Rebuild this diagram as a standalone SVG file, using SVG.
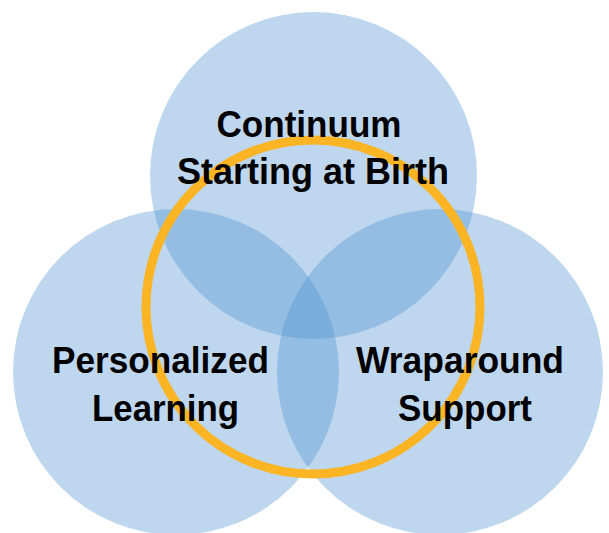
<svg xmlns="http://www.w3.org/2000/svg" width="609" height="533" viewBox="0 0 609 533">
<style>
.c{fill:#4A91D0;fill-opacity:0.36}
.t{font-family:"Liberation Sans",Arial,sans-serif;font-weight:bold;font-size:36px;fill:#000;text-anchor:middle}
</style>
<rect width="609" height="533" fill="#fff"/>
<g id="node-continuum"><circle class="c" cx="313.5" cy="175.5" r="163.5"/></g>
<g id="node-personalized"><circle class="c" cx="176" cy="372" r="163"/></g>
<g id="node-wraparound"><circle class="c" cx="440" cy="372" r="163"/></g>
<g id="node-ring"><circle cx="313" cy="307" r="167" fill="none" stroke="#FBB424" stroke-width="9"/></g>
<g id="labels">
<text class="t" x="309" y="137" textLength="185" lengthAdjust="spacingAndGlyphs">Continuum</text>
<text class="t" x="313" y="184" textLength="272" lengthAdjust="spacingAndGlyphs">Starting at Birth</text>
<text class="t" x="160.5" y="373" textLength="217" lengthAdjust="spacingAndGlyphs">Personalized</text>
<text class="t" x="165.5" y="421" textLength="147" lengthAdjust="spacingAndGlyphs">Learning</text>
<text class="t" x="460" y="373" textLength="208" lengthAdjust="spacingAndGlyphs">Wraparound</text>
<text class="t" x="465" y="421" textLength="134" lengthAdjust="spacingAndGlyphs">Support</text>
</g>
<g id="connectors"/>
</svg>
